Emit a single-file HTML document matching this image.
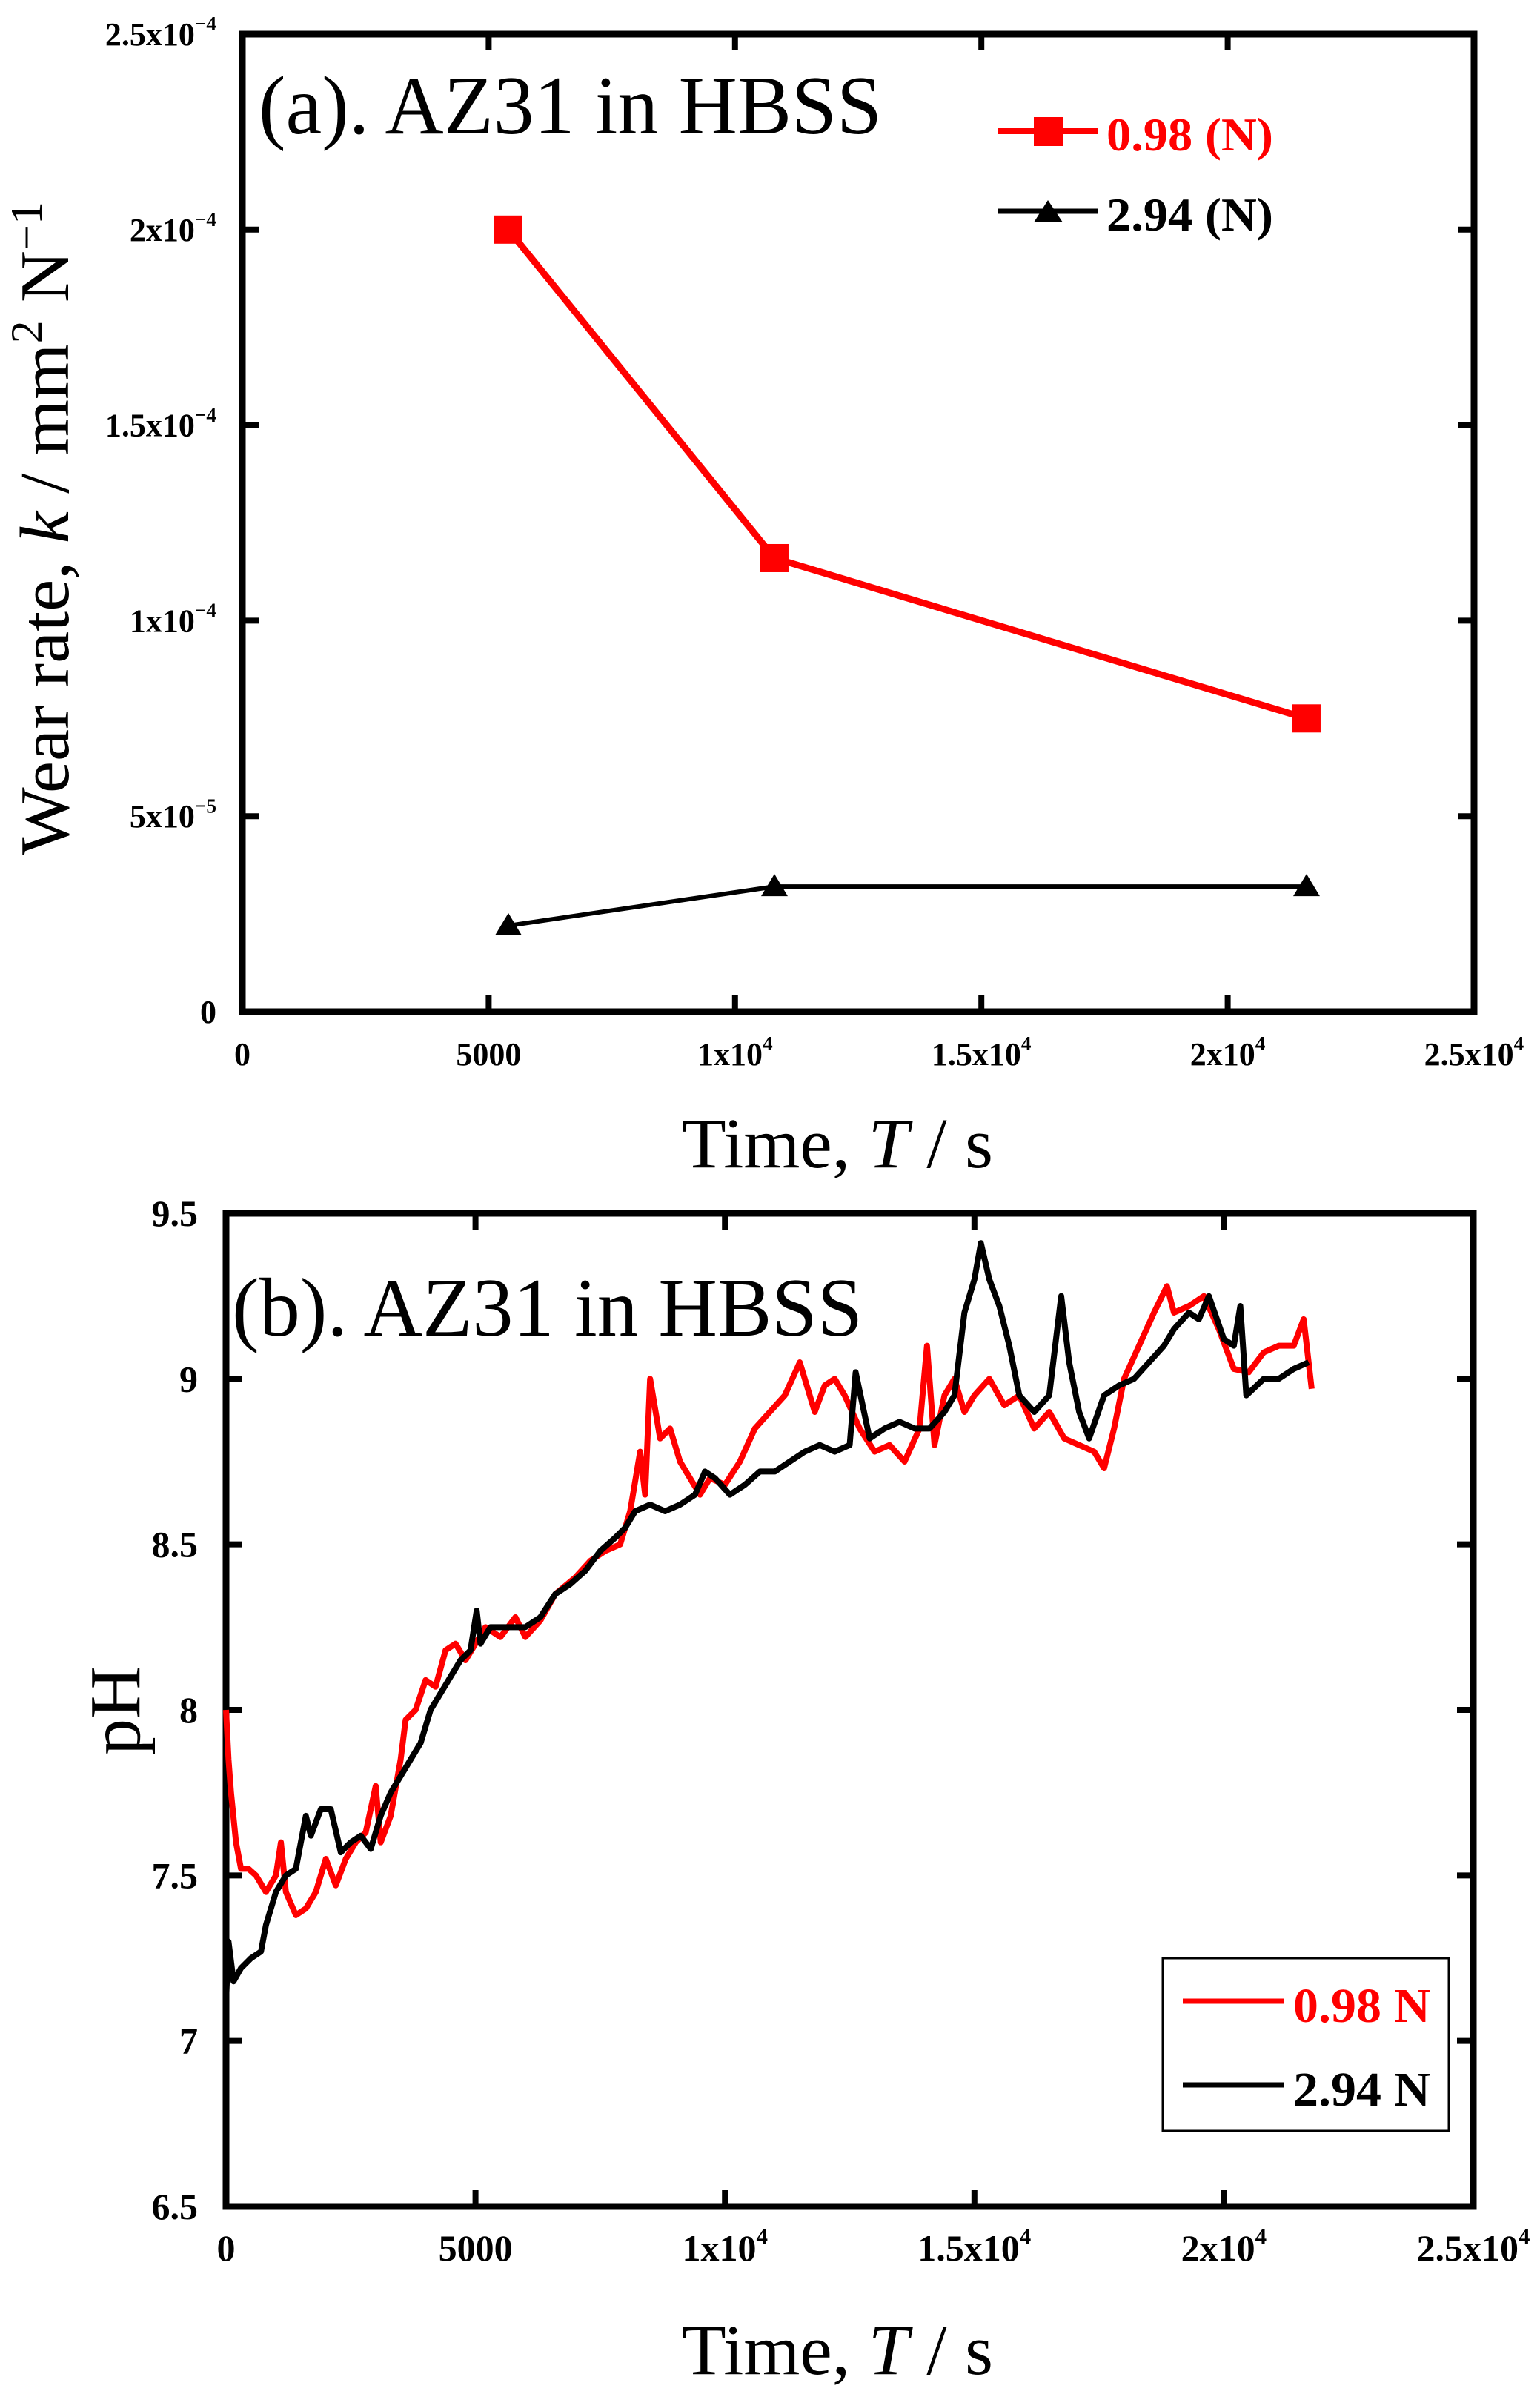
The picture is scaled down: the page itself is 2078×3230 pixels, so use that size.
<!DOCTYPE html>
<html><head><meta charset="utf-8"><style>
html,body{margin:0;padding:0;background:#fff}
svg{display:block}
text{font-family:"Liberation Serif",serif}
</style></head><body>
<svg id="svg" width="2078" height="3230" viewBox="0 0 2078 3230" xmlns="http://www.w3.org/2000/svg">
<g id="ga"></g>
<g id="gb"></g>
</svg>
<script>
// ---- Chart (a) data ----
const aTimes = [5400, 10800, 21600];
const aRed = [2.0e-4, 1.16e-4, 7.5e-5];
const aBlack = [2.2e-5, 3.2e-5, 3.2e-5];
const aXTicks = [0, 5000, 10000, 15000, 20000, 25000];
const aXTickLabels = [["0",""],["5000",""],["1x10","4"],["1.5x10","4"],["2x10","4"],["2.5x10","4"]];
const aYTicks = [0, 5e-5, 1e-4, 1.5e-4, 2e-4, 2.5e-4];
const aYTickLabels = [["0",""],["5x10","\u22125"],["1x10","\u22124"],["1.5x10","\u22124"],["2x10","\u22124"],["2.5x10","\u22124"]];
// ---- Chart (b) data ----
const bRedT = [0,50,100,200,300,450,600,800,1000,1100,1200,1400,1600,1800,2000,2200,2400,2600,2800,3000,3100,3300,3500,3600,3800,4000,4200,4400,4600,4800,5000,5200,5500,5800,6000,6300,6600,7000,7300,7600,7900,8100,8300,8400,8500,8700,8900,9100,9300,9500,9700,10000,10300,10600,10900,11200,11500,11800,12000,12200,12400,12700,13000,13300,13600,13900,14050,14200,14400,14600,14800,15000,15300,15600,15900,16200,16500,16800,17100,17400,17600,17800,18000,18300,18600,18860,19000,19300,19600,19900,20200,20500,20800,21100,21400,21600,21760];
const bRedV = [8.0,7.85,7.75,7.6,7.52,7.52,7.5,7.45,7.5,7.6,7.45,7.38,7.4,7.45,7.55,7.47,7.55,7.6,7.63,7.77,7.6,7.68,7.85,7.97,8.0,8.09,8.07,8.18,8.2,8.15,8.2,8.25,8.22,8.28,8.22,8.27,8.35,8.4,8.45,8.48,8.5,8.6,8.78,8.65,9.0,8.82,8.85,8.75,8.7,8.65,8.7,8.68,8.75,8.85,8.9,8.95,9.05,8.9,8.98,9.0,8.95,8.85,8.78,8.8,8.75,8.85,9.1,8.8,8.95,9.0,8.9,8.95,9.0,8.92,8.95,8.85,8.9,8.82,8.8,8.78,8.73,8.85,9.0,9.1,9.2,9.28,9.2,9.22,9.25,9.15,9.03,9.02,9.08,9.1,9.1,9.18,8.97];
const bBlackT = [0,50,150,300,500,700,800,1000,1200,1400,1500,1600,1700,1900,2100,2300,2500,2700,2900,3100,3300,3500,3700,3900,4100,4300,4500,4700,4900,5024,5100,5300,5500,5700,6000,6300,6600,6900,7200,7500,7800,8000,8200,8500,8800,9100,9400,9600,9800,10100,10400,10700,11000,11300,11600,11900,12200,12500,12620,12900,13200,13500,13800,14100,14400,14600,14800,15000,15130,15300,15500,15700,15900,16200,16500,16740,16900,17100,17300,17600,17900,18200,18500,18800,19000,19300,19500,19700,20000,20200,20330,20450,20800,21100,21400,21700];
const bBlackV = [7.12,7.3,7.18,7.22,7.25,7.27,7.35,7.45,7.5,7.52,7.6,7.68,7.62,7.7,7.7,7.57,7.6,7.62,7.58,7.68,7.75,7.8,7.85,7.9,8.0,8.05,8.1,8.15,8.18,8.3,8.2,8.25,8.25,8.25,8.25,8.28,8.35,8.38,8.42,8.48,8.52,8.55,8.6,8.62,8.6,8.62,8.65,8.72,8.7,8.65,8.68,8.72,8.72,8.75,8.78,8.8,8.78,8.8,9.02,8.82,8.85,8.87,8.85,8.85,8.9,8.95,9.2,9.3,9.41,9.3,9.22,9.1,8.95,8.9,8.95,9.25,9.05,8.9,8.82,8.95,8.98,9.0,9.05,9.1,9.15,9.2,9.18,9.25,9.12,9.1,9.22,8.95,9.0,9.0,9.03,9.05];
const bXTicks = [0, 5000, 10000, 15000, 20000, 25000];
const bXTickLabels = [["0",""],["5000",""],["1x10","4"],["1.5x10","4"],["2x10","4"],["2.5x10","4"]];
const bYTicks = [6.5, 7, 7.5, 8, 8.5, 9, 9.5];
const bYTickLabels = ["6.5","7","7.5","8","8.5","9","9.5"];

const NS = "http://www.w3.org/2000/svg";
function mk(parent, tag, attrs) {
  const e = document.createElementNS(NS, tag);
  for (const k in attrs) e.setAttribute(k, attrs[k]);
  parent.appendChild(e);
  return e;
}
function labelWithSup(parent, x, y, anchor, base, sup, size) {
  const t = mk(parent, "text", {x: x, y: y, "text-anchor": anchor, "font-weight": "bold", "font-size": size});
  
  
  const s1 = document.createElementNS(NS, "tspan"); s1.textContent = base; t.appendChild(s1);
  if (sup) {
    const s2 = document.createElementNS(NS, "tspan");
    s2.setAttribute("dy", -size * 0.45);
    s2.setAttribute("font-size", size * 0.62);
    s2.textContent = sup; t.appendChild(s2);
  }
  return t;
}

// ===== Chart A =====
const ga = document.getElementById("ga");
const A = {l: 327, r: 1989, t: 46, b: 1365};
const ax = v => A.l + v / 25000 * (A.r - A.l);
const ay = v => A.b - v / 2.5e-4 * (A.b - A.t);
let fr = mk(ga, "rect", {x: A.l, y: A.t, width: A.r - A.l, height: A.b - A.t, fill: "none", stroke: "#000", "stroke-width": 9});


aXTicks.forEach((v, i) => {
  const x = ax(v);
  const t1 = mk(ga, "line", {x1: x, x2: x, y1: A.b, y2: A.b - 22, stroke: "#000", "stroke-width": 8});
  
  
  mk(ga, "line", {x1: x, x2: x, y1: A.t, y2: A.t + 22, stroke: "#000", "stroke-width": 8});
  labelWithSup(ga, x, 1437, "middle", aXTickLabels[i][0], aXTickLabels[i][1], 44);
});
aYTicks.forEach((v, i) => {
  const y = ay(v);
  const t1 = mk(ga, "line", {x1: A.l, x2: A.l + 22, y1: y, y2: y, stroke: "#000", "stroke-width": 8});
  
  
  mk(ga, "line", {x1: A.r, x2: A.r - 22, y1: y, y2: y, stroke: "#000", "stroke-width": 8});
  labelWithSup(ga, 292, y + 15, "end", aYTickLabels[i][0], aYTickLabels[i][1], 44);
});
let pr = mk(ga, "polyline", {points: aTimes.map((t, i) => ax(t) + "," + ay(aRed[i])).join(" "), fill: "none", stroke: "#ff0000", "stroke-width": 9});


let pk = mk(ga, "polyline", {points: aTimes.map((t, i) => ax(t) + "," + ay(aBlack[i])).join(" "), fill: "none", stroke: "#000", "stroke-width": 6});


aTimes.forEach((t, i) => {
  const x = ax(t), y = ay(aRed[i]);
  const m = mk(ga, "rect", {x: x - 19, y: y - 19, width: 38, height: 38, fill: "#ff0000"});
  
  
  const y2 = ay(aBlack[i]);
  const m2 = mk(ga, "polygon", {points: (x) + "," + (y2 - 17) + " " + (x - 18) + "," + (y2 + 13) + " " + (x + 18) + "," + (y2 + 13), fill: "#000"});
  
  
});
// ===== Chart B =====
const gb = document.getElementById("gb");
const B = {l: 305, r: 1988, t: 1637, b: 2977};
const bx = v => B.l + v / 25000 * (B.r - B.l);
const by = v => B.b - (v - 6.5) / 3 * (B.b - B.t);
let fb = mk(gb, "rect", {x: B.l, y: B.t, width: B.r - B.l, height: B.b - B.t, fill: "none", stroke: "#000", "stroke-width": 9});


bXTicks.forEach((v, i) => {
  const x = bx(v);
  const t1 = mk(gb, "line", {x1: x, x2: x, y1: B.b, y2: B.b - 22, stroke: "#000", "stroke-width": 8});
  
  
  mk(gb, "line", {x1: x, x2: x, y1: B.t, y2: B.t + 22, stroke: "#000", "stroke-width": 8});
  labelWithSup(gb, x, 3050, "middle", bXTickLabels[i][0], bXTickLabels[i][1], 50);
});
bYTicks.forEach((v, i) => {
  const y = by(v);
  const t1 = mk(gb, "line", {x1: B.l, x2: B.l + 22, y1: y, y2: y, stroke: "#000", "stroke-width": 8});
  
  
  mk(gb, "line", {x1: B.r, x2: B.r - 22, y1: y, y2: y, stroke: "#000", "stroke-width": 8});
  labelWithSup(gb, 267, y + 17, "end", bYTickLabels[i], "", 50);
});
let lr = mk(gb, "polyline", {points: bRedT.map((t, i) => bx(t) + "," + by(bRedV[i])).join(" "), fill: "none", stroke: "#ff0000", "stroke-width": 8, "stroke-linejoin": "round"});


let lk = mk(gb, "polyline", {points: bBlackT.map((t, i) => bx(t) + "," + by(bBlackV[i])).join(" "), fill: "none", stroke: "#000", "stroke-width": 8, "stroke-linejoin": "round"});


</script>
<svg width="2078" height="3230" style="position:absolute;left:0;top:0" xmlns="http://www.w3.org/2000/svg">
  <text x="349" y="180" font-size="112" textLength="841" lengthAdjust="spacingAndGlyphs" style="font-family:'Liberation Serif',serif">(a). AZ31 in HBSS</text>
  <g>
    <line x1="1347" y1="177" x2="1482" y2="177" stroke="#ff0000" stroke-width="8"/>
    <rect x="1395" y="158" width="40" height="39" fill="#ff0000"/>
    <text x="1493" y="203" font-size="64" font-weight="bold" fill="#ff0000" textLength="225" lengthAdjust="spacingAndGlyphs" style="font-family:'Liberation Serif',serif">0.98 (N)</text>
    <line x1="1347" y1="285" x2="1482" y2="285" stroke="#000" stroke-width="7"/>
    <polygon points="1414,270 1395,300 1434,300" fill="#000"/>
    <text x="1493" y="311" font-size="64" font-weight="bold" fill="#000" textLength="225" lengthAdjust="spacingAndGlyphs" style="font-family:'Liberation Serif',serif">2.94 (N)</text>
  </g>
  <text transform="translate(92,713) rotate(-90)" text-anchor="middle" font-size="94" textLength="882" lengthAdjust="spacingAndGlyphs" style="font-family:'Liberation Serif',serif">Wear rate, <tspan font-style="italic">k</tspan> / mm<tspan dy="-36" font-size="60">2</tspan><tspan dy="36"> N</tspan><tspan dy="-36" font-size="60">−1</tspan></text>
  <text x="920" y="1575" font-size="96" textLength="420" lengthAdjust="spacingAndGlyphs" style="font-family:'Liberation Serif',serif">Time, <tspan font-style="italic">T</tspan> / s</text>

  <text x="313" y="1802" font-size="112" textLength="851" lengthAdjust="spacingAndGlyphs" style="font-family:'Liberation Serif',serif">(b). AZ31 in HBSS</text>
  <g>
    <rect x="1569" y="2642" width="386" height="233" fill="#fff" stroke="#000" stroke-width="3"/>
    <line x1="1596" y1="2700" x2="1733" y2="2700" stroke="#ff0000" stroke-width="7"/>
    <text x="1745" y="2728" font-size="66" font-weight="bold" fill="#ff0000" textLength="185" lengthAdjust="spacingAndGlyphs" style="font-family:'Liberation Serif',serif">0.98 N</text>
    <line x1="1596" y1="2813" x2="1733" y2="2813" stroke="#000" stroke-width="7"/>
    <text x="1745" y="2841" font-size="66" font-weight="bold" fill="#000" textLength="185" lengthAdjust="spacingAndGlyphs" style="font-family:'Liberation Serif',serif">2.94 N</text>
  </g>
  <text transform="translate(188,2308) rotate(-90)" text-anchor="middle" font-size="98" style="font-family:'Liberation Serif',serif">pH</text>
  <text x="920" y="3203" font-size="96" textLength="420" lengthAdjust="spacingAndGlyphs" style="font-family:'Liberation Serif',serif">Time, <tspan font-style="italic">T</tspan> / s</text>
</svg>
</body></html>
